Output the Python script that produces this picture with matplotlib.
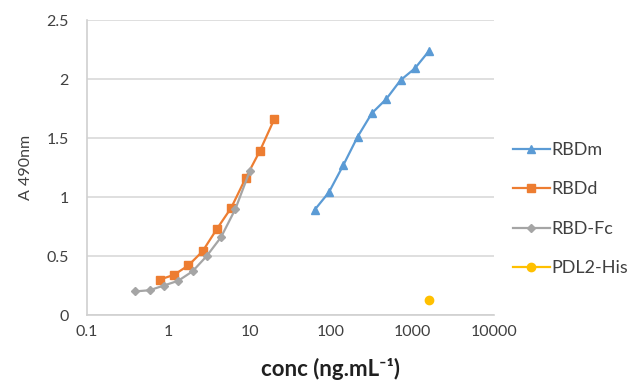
import matplotlib
matplotlib.use('Agg')
import matplotlib.pyplot as plt
import matplotlib.ticker as mticker

plt.rcParams['font.family'] = ['Lato', 'DejaVu Sans']

# data (1.5-fold dilution series)
conc_rbdm = [62.5, 93.8, 141, 211, 316, 475, 712, 1068, 1602]
a_rbdm = [0.89, 1.04, 1.27, 1.51, 1.71, 1.83, 1.99, 2.09, 2.24]

conc_rbdd = [0.78, 1.17, 1.76, 2.63, 3.95, 5.93, 8.89, 13.3, 20.0]
a_rbdd = [0.30, 0.34, 0.42, 0.54, 0.73, 0.91, 1.16, 1.39, 1.66]

conc_fc = [0.39, 0.59, 0.88, 1.32, 1.98, 2.96, 4.44, 6.67, 10.0]
a_fc = [0.20, 0.21, 0.25, 0.29, 0.37, 0.50, 0.66, 0.90, 1.22]

conc_pdl2 = [1602]
a_pdl2 = [0.125]

series_labels = ['RBDm', 'RBDd', 'RBD-Fc', 'PDL2-His']
x_ticks = [0.1, 1, 10, 100, 1000, 10000]
x_ticklabels = ['0.1', '1', '10', '100', '1000', '10000']
y_ticks = [0, 0.5, 1, 1.5, 2, 2.5]
y_ticklabels = ['0', '0.5', '1', '1.5', '2', '2.5']

fig = plt.figure(figsize=(6.29, 3.81), dpi=100)
ax = fig.add_axes([0.1383, 0.1732, 0.647, 0.7743])

ax.plot(conc_rbdm, a_rbdm, '-^', color='#5B9BD5', lw=1.6, ms=5.5, label=series_labels[0])
ax.plot(conc_rbdd, a_rbdd, '-s', color='#ED7D31', lw=1.6, ms=5.5, label=series_labels[1])
ax.plot(conc_fc, a_fc, '-D', color='#A5A5A5', lw=1.6, ms=4, label=series_labels[2])
ax.plot(conc_pdl2, a_pdl2, '-o', color='#FFC000', lw=1.6, ms=6, label=series_labels[3])

ax.set_xscale('log')
ax.set_xlim(0.1, 10000)
ax.set_ylim(0, 2.5)
ax.xaxis.set_major_locator(mticker.FixedLocator(x_ticks))
ax.xaxis.set_major_formatter(mticker.FixedFormatter(x_ticklabels))
ax.xaxis.set_minor_locator(mticker.NullLocator())
ax.set_yticks(y_ticks)
ax.set_yticklabels(y_ticklabels)

ax.yaxis.grid(True, color='#D9D9D9', lw=1.2)
ax.set_axisbelow(True)
for s in ['top', 'right']:
    ax.spines[s].set_visible(False)
for s in ['left', 'bottom']:
    ax.spines[s].set_color('#D0D0D0')
    ax.spines[s].set_linewidth(1.2)
ax.tick_params(length=0, labelsize=11.5, labelcolor='#404040')
ax.tick_params(axis='y', pad=13)
ax.tick_params(axis='x', pad=7)

ax.set_ylabel('A 490nm', fontsize=11.5, color='#404040', labelpad=10)
# axis title sits right of centre in the original
fig.text(0.526, 0.031, 'conc (ng.mL⁻¹)', fontsize=16, fontweight='bold',
         color='#202020', ha='center', va='center')

fig.legend(loc='center left', bbox_to_anchor=(0.815, 0.451), frameon=False,
           fontsize=13, handlelength=2.05, handletextpad=0.1, labelspacing=1.3,
           borderaxespad=0, borderpad=0, labelcolor='#404040')

fig.savefig('out.png', dpi=100)
